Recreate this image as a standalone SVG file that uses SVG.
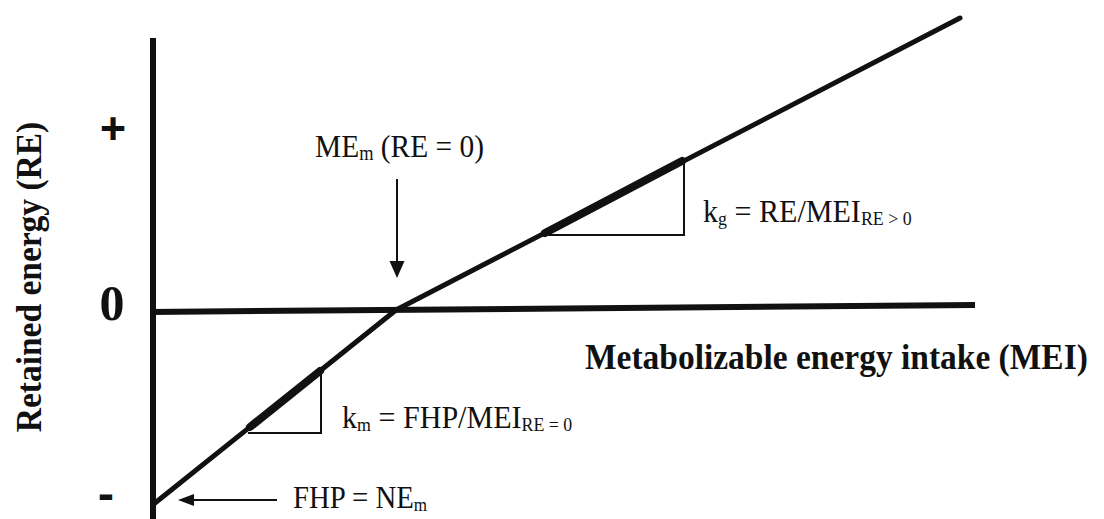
<svg xmlns="http://www.w3.org/2000/svg" width="1104" height="519" viewBox="0 0 1104 519">
  <style>
    .ax { stroke:#111; stroke-width:6; fill:none; stroke-linecap:butt; }
    .ln { stroke:#111; stroke-width:5; fill:none; stroke-linejoin:round; stroke-linecap:round; }
    .thk { stroke:#111; stroke-width:8; fill:none; stroke-linecap:round; }
    .tri { stroke:#111; stroke-width:2; fill:none; }
    .arr { stroke:#111; stroke-width:2; fill:none; }
    .lbl { font-family:"Liberation Serif","Times New Roman",serif; fill:#111; font-size:32px; }
    .bold { font-family:"Liberation Serif","Times New Roman",serif; fill:#111; font-weight:bold; }
    .heavy { stroke:#111; stroke-width:2; }
    .sub { font-size:19px; }
  </style>
  <rect width="1104" height="519" fill="#fff"/>

  <g id="connectors">
    <line class="ax" x1="153" y1="38" x2="153" y2="519"/>
    <line class="ax" x1="150" y1="312" x2="975" y2="305"/>
    <polyline class="ln" points="155,503 396,310 960,18"/>
    <line class="thk" x1="250" y1="427" x2="320" y2="371"/>
    <line class="thk" x1="545" y1="233" x2="682" y2="161"/>
    <polyline class="tri" points="321,371 321,433 248,433"/>
    <polyline class="tri" points="684,161 684,235 543,235"/>
    <line class="arr" x1="397" y1="179" x2="397" y2="262"/>
    <path d="M389.5,261 L404.5,261 L397,278 z" fill="#111"/>
    <line class="arr" x1="277" y1="500" x2="193" y2="500"/>
    <path d="M194,494 L194,506 L178,500 z" fill="#111"/>
  </g>

  <g id="y-axis-label">
    <text class="bold" font-size="36" text-anchor="middle" transform="translate(41,277) rotate(-90) scale(0.93,1)">Retained energy (RE)</text>
  </g>
  <g id="tick-plus">
    <text class="bold heavy" font-size="44" text-anchor="middle" x="113" y="143">+</text>
  </g>
  <g id="tick-zero">
    <text class="bold" font-size="50" text-anchor="middle" x="112" y="320">0</text>
  </g>
  <g id="tick-minus">
    <text class="bold heavy" font-size="40" text-anchor="middle" x="106" y="507">-</text>
  </g>
  <g id="x-axis-label">
    <text class="bold" font-size="36" transform="translate(585,369) scale(0.93,1)">Metabolizable energy intake (MEI)</text>
  </g>
  <g id="label-mem">
    <text class="lbl" font-size="33" transform="translate(315,157) scale(0.92,1)">ME<tspan font-size="20" dy="3">m</tspan><tspan dy="-3"> (RE = 0)</tspan></text>
  </g>
  <g id="label-kg">
    <text class="lbl" transform="translate(703,222) scale(0.94,1)">k<tspan class="sub" dy="3">g</tspan><tspan dy="-3"> = RE/MEI</tspan><tspan class="sub" dy="3">RE &gt; 0</tspan></text>
  </g>
  <g id="label-km">
    <text class="lbl" transform="translate(342,428) scale(0.94,1)">k<tspan class="sub" dy="3">m</tspan><tspan dy="-3"> = FHP/MEI</tspan><tspan class="sub" dy="3">RE = 0</tspan></text>
  </g>
  <g id="label-fhp">
    <text class="lbl" transform="translate(293,508) scale(0.9,1)">FHP = NE<tspan class="sub" dy="3">m</tspan></text>
  </g>
</svg>
